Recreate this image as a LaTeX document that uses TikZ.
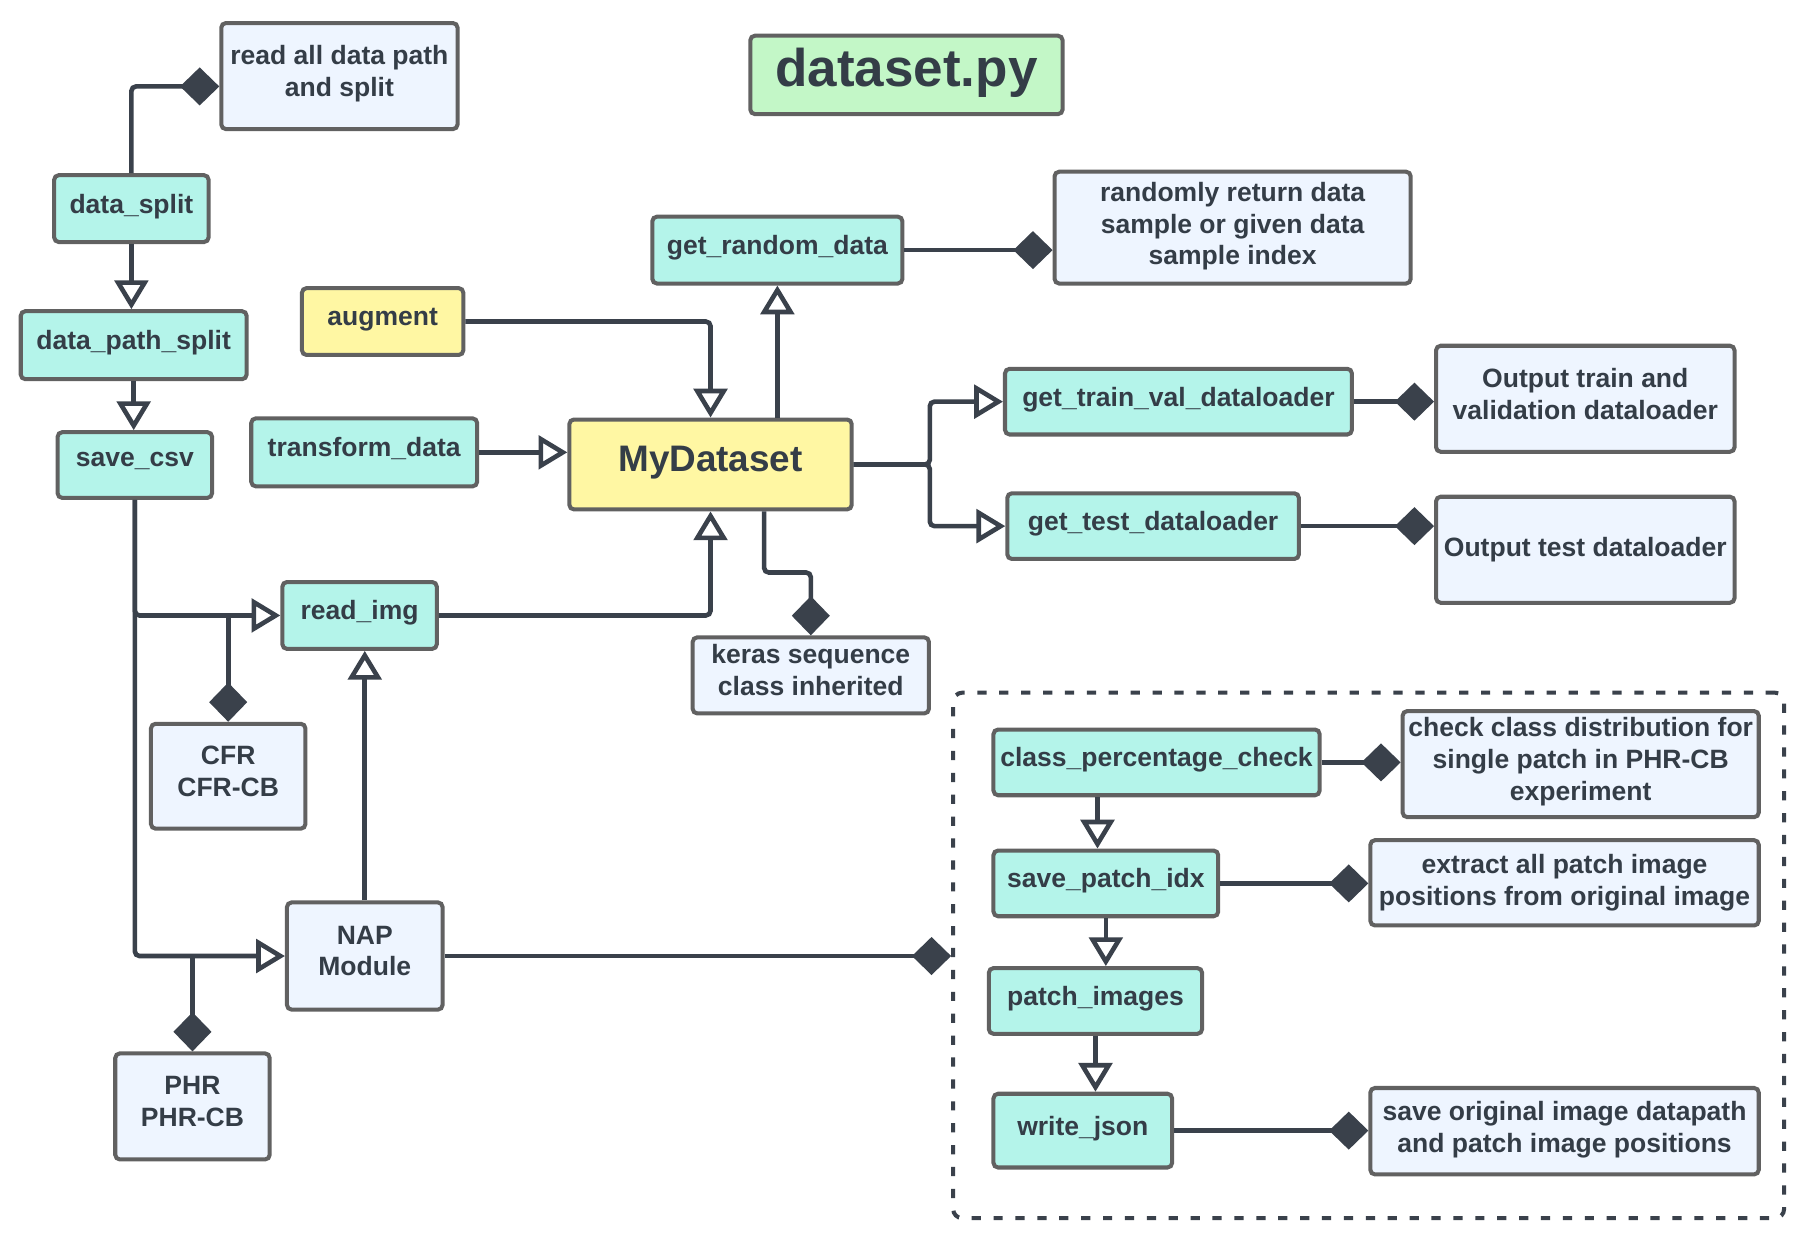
\documentclass[tikz,border=0pt]{standalone}
\usepackage{fontspec}
\setmainfont{Liberation Sans}
\usetikzlibrary{arrows.meta,calc}
\definecolor{mint}{HTML}{B4F4EA}
\definecolor{lblue}{HTML}{EEF5FF}
\definecolor{yel}{HTML}{FFF7A3}
\definecolor{grn}{HTML}{C3F7C7}
\definecolor{bord}{HTML}{616161}
\definecolor{linec}{HTML}{3A414B}
\definecolor{txt}{HTML}{343D47}
\begin{document}
\begin{tikzpicture}[x=1pt,y=-1pt,
  box/.style={draw=bord, line width=3.5pt, rounded corners=4pt, align=center, text=txt,
    font=\fontsize{23}{27.5}\selectfont\bfseries, inner sep=0pt, text depth=9pt},
  mintbox/.style={box, fill=mint},
  bluebox/.style={box, fill=lblue},
  yelbox/.style={box, fill=yel},
  conn/.style={draw=linec, line width=4pt, rounded corners=4pt},
  tri/.style={conn, -{Triangle[length=25pt,width=29pt,fill=white]}},
  dia/.style={conn, -{Diamond[length=34pt,width=33pt,fill=linec]}},
]
\useasboundingbox[fill=white] (0,0) rectangle (1567,1077.6);

% nodes
\node[box, fill=grn, minimum width=271pt, minimum height=68pt, text depth=13pt, font=\fontsize{46}{50}\selectfont\bfseries] (title) at (786.5,65) {dataset.py};
\node[bluebox, minimum width=205pt, minimum height=92pt] (readall) at (294.5,66) {read all data path\\and split};
\node[mintbox, minimum width=134pt, minimum height=58pt] (dsplit) at (114,181) {data\_split};
\node[mintbox, minimum width=196pt, minimum height=59pt] (dpsplit) at (116,299.5) {data\_path\_split};
\node[mintbox, minimum width=134pt, minimum height=57pt] (savecsv) at (117,403.5) {save\_csv};
\node[yelbox, minimum width=140pt, minimum height=58pt] (augment) at (332,279) {augment};
\node[mintbox, minimum width=196pt, minimum height=59pt] (transform) at (316,392.5) {transform\_data};
\node[yelbox, minimum width=245pt, minimum height=78pt, font=\fontsize{32}{36}\selectfont\bfseries] (mydataset) at (616.5,403) {MyDataset};
\node[mintbox, minimum width=217pt, minimum height=58pt] (getrandom) at (674.5,217) {get\_random\_data};
\node[bluebox, minimum width=309pt, minimum height=97pt, text depth=7pt] (randomly) at (1069.5,197.5) {randomly return data\\sample or given data\\sample index};
\node[mintbox, minimum width=301pt, minimum height=57pt] (gettrain) at (1022.5,348.5) {get\_train\_val\_dataloader};
\node[mintbox, minimum width=253pt, minimum height=57pt] (gettest) at (1000.5,456.5) {get\_test\_dataloader};
\node[bluebox, minimum width=259pt, minimum height=92pt] (outtrain) at (1375.5,346) {Output train and\\validation dataloader};
\node[bluebox, minimum width=259pt, minimum height=92pt, text depth=5pt] (outtest) at (1375.5,477) {Output test dataloader};
\node[mintbox, minimum width=134pt, minimum height=58pt] (readimg) at (312,534) {read\_img};
\node[bluebox, minimum width=134pt, minimum height=91pt] (cfr) at (198,673.5) {CFR\\CFR-CB};
\node[bluebox, minimum width=205pt, minimum height=66pt] (keras) at (703.5,586) {keras sequence\\class inherited};
\node[bluebox, minimum width=135pt, minimum height=93pt] (nap) at (316.5,829.5) {NAP\\Module};
\node[bluebox, minimum width=134pt, minimum height=92pt] (phr) at (167,960) {PHR\\PHR-CB};

\node[draw=linec, line width=3.5pt, dash pattern=on 8pt off 11pt, rounded corners=8pt,
      minimum width=721pt, minimum height=456pt, inner sep=0pt] (group) at (1187.5,829) {};

\node[mintbox, minimum width=283pt, minimum height=57pt] (cpc) at (1003.5,661.5) {class\_percentage\_check};
\node[bluebox, minimum width=309pt, minimum height=92pt] (check) at (1371.5,663) {check class distribution for\\single patch in PHR-CB\\experiment};
\node[mintbox, minimum width=195pt, minimum height=57pt] (spi) at (959.5,766.5) {save\_patch\_idx};
\node[bluebox, minimum width=337pt, minimum height=74pt, text depth=5pt] (extract) at (1357.5,766) {extract all patch image\\positions from original image};
\node[mintbox, minimum width=185pt, minimum height=57pt] (pimages) at (950.5,868.5) {patch\_images};
\node[mintbox, minimum width=155pt, minimum height=64pt] (wjson) at (939.5,981) {write\_json};
\node[bluebox, minimum width=337pt, minimum height=75pt, text depth=7pt] (saveorig) at (1357.5,981.5) {save original image datapath\\and patch image positions};

% connectors
\draw[dia] (dsplit.north) |- ($(readall.west)+(0,9)$);
\draw[tri] (dsplit.south) -- (dsplit.south |- dpsplit.north);
\draw[tri] (dpsplit.south) -- (dpsplit.south |- savecsv.north);
\draw[tri] (augment.east) -| (mydataset.north);
\draw[tri] (getrandom.south |- mydataset.north) -- (getrandom.south);
\draw[dia] (getrandom.east) -- (getrandom.east -| randomly.west);
\draw[tri] (transform.east) -- (transform.east -| mydataset.west);
\draw[tri] (mydataset.east) -- ++(66,0) |- (gettrain.west);
\draw[tri] (mydataset.east) -- ++(66,0) |- (gettest.west);
\draw[dia] (gettrain.east) -- (gettrain.east -| outtrain.west);
\draw[dia] (gettest.east) -- (gettest.east -| outtest.west);
\draw[tri] (savecsv.south) |- (readimg.west);
\draw[tri] (savecsv.south) |- (nap.west);
\draw[dia] (cfr.north |- readimg.west) -- (cfr.north);
\draw[dia] (phr.north |- nap.west) -- (phr.north);
\draw[tri] (readimg.east) -| (mydataset.south);
\draw[tri] (nap.north) -- (nap.north |- readimg.south);
\draw[dia] ($(mydataset.south)+(46.5,0)$) -- ++(0,53) -| (keras.north);
\draw[dia] (nap.east) -- (nap.east -| group.west);
\draw[dia] (cpc.east) -- (cpc.east -| check.west);
\draw[tri] ($(cpc.south west)+(92,0)$) -- ($(spi.north west)+(92,0)$);
\draw[tri] (spi.south) -- (spi.south |- pimages.north);
\draw[tri] (pimages.south) -- (pimages.south |- wjson.north);
\draw[dia] (spi.east) -- (spi.east -| extract.west);
\draw[dia] (wjson.east) -- (wjson.east -| saveorig.west);
\end{tikzpicture}
\end{document}
